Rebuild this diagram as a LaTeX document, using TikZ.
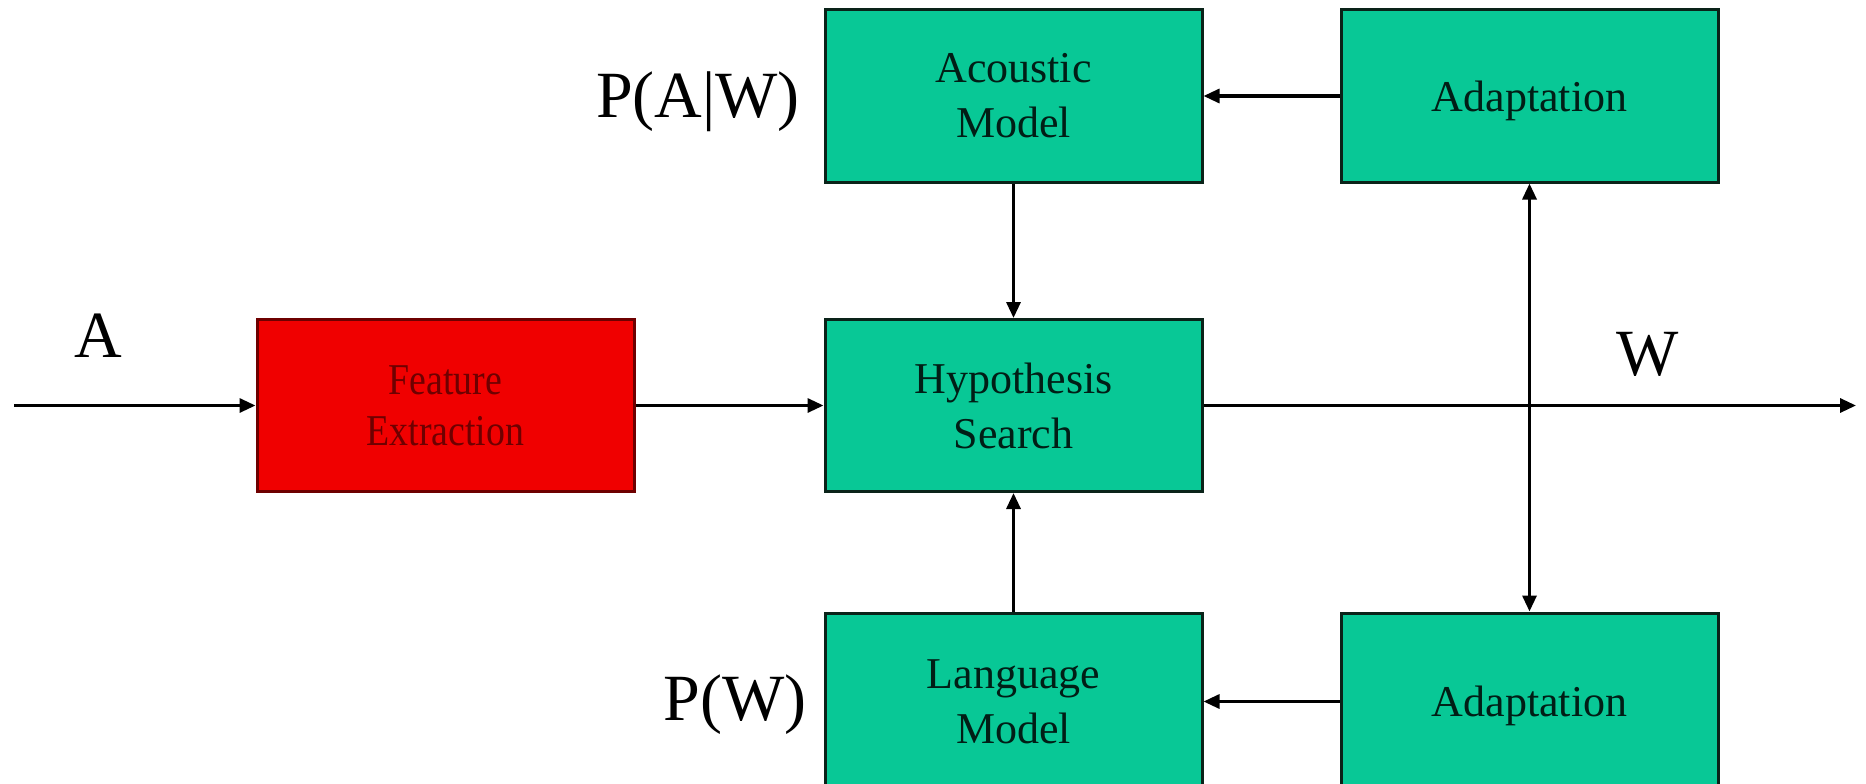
\documentclass[tikz,border=0pt]{standalone}
\usepackage{fontspec}
\setmainfont{Liberation Serif}
\newfontfamily\condfont[FakeStretch=0.86]{Liberation Serif}
\usetikzlibrary{arrows.meta}
\definecolor{boxgreen}{RGB}{8,200,150}
\definecolor{boxred}{RGB}{240,0,0}
\definecolor{darkred}{RGB}{110,0,0}
\definecolor{boxedge}{RGB}{10,35,25}
\begin{document}
\begin{tikzpicture}[x=1pt,y=-1pt,
  gbox/.style={draw=boxedge, line width=3pt, fill=boxgreen, minimum width=377pt,
    minimum height=172pt, inner sep=0pt, align=center,
    font=\fontsize{44}{55}\selectfont, text=black!85!boxgreen},
  rbox/.style={gbox, draw=darkred, fill=boxred, text=darkred,
    font=\condfont\fontsize{44}{51}\selectfont},
  conn/.style={line width=3.2pt, -{Triangle[length=16pt,width=14pt]}},
  biconn/.style={line width=3.2pt, {Triangle[length=16pt,width=14pt]}-{Triangle[length=16pt,width=14pt]}},
  lbl/.style={font=\fontsize{66}{66}\selectfont, inner sep=0pt, anchor=base}
]
\useasboundingbox (0,0) rectangle (1866,784);
\clip (0,0) rectangle (1866,784);
\fill[white] (0,0) rectangle (1866,784);

\node[gbox] (am) at (1013.5,96) {Acoustic\\Model};
\node[gbox, text depth=0pt] (at) at (1529.5,96) {Adaptation};
\node[rbox] (fe) at (445.5,405.5) {Feature\\Extraction};
\node[gbox] (hs) at (1013.5,405.5) {Hypothesis\\Search};
\node[gbox, minimum height=177pt] (lm) at (1013.5,701.5) {Language\\Model};
\node[gbox, minimum height=177pt, text depth=0pt] (ab) at (1529.5,701.5) {Adaptation};

\node[lbl] (pa) at (698,117) {P(A|W)};
\node[lbl] (pw) at (735,720) {P(W)};
\node[lbl] (la) at (98,357) {A};
\node[lbl] (lw) at (1648,375) {W};

\coordinate (in) at (14,405.5);
\coordinate (out) at (1856,405.5);
\draw[conn] (in) -- (fe.west);
\draw[conn] (fe) -- (hs);
\draw[conn] (hs.east) -- (out);
\draw[conn] (am) -- (hs);
\draw[conn] (lm) -- (hs);
\draw[conn] (at) -- (am);
\draw[conn] (ab) -- (lm);
\draw[biconn] (at) -- (ab);
\end{tikzpicture}
\end{document}
